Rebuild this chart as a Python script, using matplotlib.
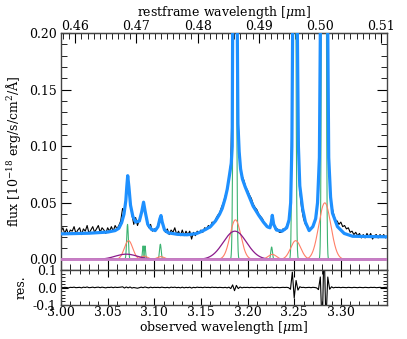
import numpy as np
from matplotlib import pyplot as plt, ticker

plt.rcParams['font.family'] = ['DejaVu Serif']
plt.rcParams['mathtext.fontset'] = 'dejavuserif'
plt.rcParams['font.size'] = 9

one_plus_z = 6.555

# observed spectrum (black), 3.000 .. 3.350 um in 0.002 steps
flux = [
    0.025, 0.028, 0.023, 0.027, 0.022, 0.026, 0.025, 0.029, 0.023, 0.026,
    0.028, 0.022, 0.027, 0.025, 0.030, 0.023, 0.026, 0.029, 0.024, 0.027,
    0.030, 0.024, 0.028, 0.026, 0.023, 0.028, 0.025, 0.029, 0.025, 0.030,
    0.027, 0.030, 0.034, 0.045, 0.042, 0.058, 0.070, 0.052, 0.040, 0.031,
    0.037, 0.030, 0.035, 0.040, 0.049, 0.045, 0.033, 0.028, 0.031, 0.025,
    0.027, 0.026, 0.030, 0.037, 0.036, 0.028, 0.024, 0.027, 0.022, 0.026,
    0.024, 0.028, 0.022, 0.025, 0.021, 0.026, 0.021, 0.025, 0.022, 0.025,
    0.018, 0.024, 0.021, 0.025, 0.023, 0.026, 0.024, 0.028, 0.027, 0.030,
    0.028, 0.033, 0.032, 0.036, 0.039, 0.041, 0.046, 0.050, 0.056, 0.061,
    0.070, 0.085, 0.160, 0.450, 0.300, 0.120, 0.082, 0.074, 0.070, 0.064,
    0.061, 0.057, 0.054, 0.049, 0.046, 0.044, 0.040, 0.038, 0.036, 0.032,
    0.031, 0.028, 0.029, 0.037, 0.031, 0.026, 0.027, 0.024, 0.024, 0.027,
    0.026, 0.030, 0.034, 0.048, 0.150, 0.700, 0.350, 0.120, 0.060, 0.045,
    0.036, 0.031, 0.029, 0.026, 0.027, 0.029, 0.033, 0.040, 0.058, 0.150,
    0.900, 1.200, 0.600, 0.120, 0.068, 0.048, 0.041, 0.035, 0.034, 0.031,
    0.033, 0.029, 0.030, 0.027, 0.028, 0.024, 0.025, 0.022, 0.024, 0.021,
    0.023, 0.019, 0.022, 0.019, 0.023, 0.020, 0.023, 0.018, 0.021, 0.022,
    0.019, 0.022, 0.020, 0.022, 0.019, 0.021,
]
resid = [
    0.002, -0.001, 0.001, 0.000, -0.002, 0.001, 0.000, 0.002, -0.001, 0.000,
    0.001, -0.002, 0.002, 0.000, 0.003, -0.001, 0.000, 0.002, -0.001, 0.001,
    0.002, -0.001, 0.002, 0.000, -0.002, 0.001, 0.000, 0.002, -0.001, 0.002,
    0.000, 0.001, 0.002, 0.004, -0.003, 0.003, -0.002, 0.003, -0.003, 0.000,
    -0.002, -0.004, -0.001, 0.002, -0.001, 0.003, 0.000, -0.002, 0.002, -0.001,
    0.001, 0.000, 0.001, -0.001, 0.002, 0.000, -0.001, 0.001, -0.002, 0.002,
    0.000, 0.002, -0.001, 0.001, -0.002, 0.002, -0.002, 0.001, -0.001, 0.002,
    -0.003, 0.001, -0.001, 0.002, 0.000, 0.001, -0.001, 0.002, 0.000, 0.001,
    -0.001, 0.002, 0.000, 0.001, -0.001, 0.001, 0.000, -0.001, 0.001, -0.002,
    0.002, -0.006, 0.015, -0.018, 0.012, -0.006, 0.003, -0.002, 0.001, 0.000,
    0.001, -0.001, 0.001, 0.000, -0.001, 0.001, 0.000, -0.001, 0.001, 0.000,
    -0.001, 0.001, 0.000, 0.002, -0.001, 0.000, 0.001, -0.001, 0.000, 0.001,
    0.000, 0.001, -0.001, -0.010, 0.088, -0.060, 0.040, -0.015, 0.004, 0.000,
    0.001, -0.001, 0.000, 0.001, -0.001, 0.001, 0.000, -0.002, -0.012, 0.060,
    -0.250, 0.250, -0.200, 0.060, -0.010, 0.004, -0.002, 0.001, 0.000, 0.001,
    -0.001, 0.001, 0.000, -0.001, 0.001, 0.000, -0.001, 0.001, 0.000, -0.001,
    0.001, 0.000, -0.001, 0.001, 0.000, -0.001, 0.001, 0.000, 0.001, -0.001,
    0.000, 0.001, -0.001, 0.000, 0.001, 0.000,
]
wl = np.linspace(3.0, 3.35, len(flux))

# total model (blue)
model_wl = [
    3.000, 3.030, 3.050, 3.058, 3.062, 3.065, 3.0675, 3.0695, 3.0705, 3.0715,
    3.0728, 3.0745, 3.0770, 3.0800, 3.0840, 3.0865, 3.0885, 3.0903, 3.0930, 3.0970,
    3.1010, 3.1040, 3.1060, 3.1072, 3.1085, 3.1110, 3.1150, 3.1250, 3.1350, 3.1450,
    3.1500, 3.1550, 3.1602, 3.1656, 3.1700, 3.1728, 3.1760, 3.1782, 3.1805, 3.1825,
    3.1835, 3.1840, 3.1865, 3.1890, 3.1897, 3.1910, 3.1925, 3.1945, 3.1975, 3.2010,
    3.2060, 3.2120, 3.2170, 3.2210, 3.2240, 3.2255, 3.2265, 3.2280, 3.2310, 3.2370,
    3.2420, 3.2445, 3.2462, 3.2475, 3.2483, 3.2505, 3.2534, 3.2545, 3.2560, 3.2590,
    3.2620, 3.2660, 3.2700, 3.2730, 3.2750, 3.2770, 3.2780, 3.2820, 3.2860, 3.2870,
    3.2890, 3.2910, 3.2964, 3.3036, 3.3126, 3.3500,
]
model_flux = [
    0.0226, 0.0232, 0.0242, 0.0255, 0.0275, 0.0325, 0.0400, 0.0520, 0.0640, 0.0740,
    0.0640, 0.0480, 0.0380, 0.0330, 0.0340, 0.0420, 0.0506, 0.0420, 0.0310, 0.0265,
    0.0255, 0.0290, 0.0360, 0.0388, 0.0330, 0.0260, 0.0235, 0.0222, 0.0218, 0.0228,
    0.0245, 0.0265, 0.0290, 0.0340, 0.0400, 0.0450, 0.0540, 0.0620, 0.0740, 0.0850,
    0.1000, 0.2000, 0.6000, 0.2000, 0.1200, 0.0950, 0.0800, 0.0710, 0.0640, 0.0570,
    0.0470, 0.0390, 0.0330, 0.0290, 0.0280, 0.0330, 0.0390, 0.0310, 0.0260, 0.0250,
    0.0280, 0.0350, 0.0500, 0.1000, 0.2000, 0.9000, 0.2000, 0.1000, 0.0650, 0.0450,
    0.0330, 0.0255, 0.0290, 0.0360, 0.0500, 0.0900, 0.2000, 1.5000, 0.2000, 0.0900,
    0.0550, 0.0410, 0.0290, 0.0230, 0.0205, 0.0200,
]

# gaussian components: centre [um], amplitude, sigma [um]
narrow_c = [3.0713, 3.0880, 3.0900, 3.1065, 3.1863, 3.2258, 3.2498, 3.2818]
narrow_a = [0.031, 0.012, 0.012, 0.0135, 0.67, 0.011, 1.0, 3.0]
narrow_s = [0.0009, 0.0007, 0.0007, 0.0009, 0.0012, 0.0009, 0.0012, 0.0012]

broad_c = [3.0724, 3.0890, 3.1070, 3.1870, 3.2265, 3.2516, 3.2828]
broad_a = [0.0166, 0.003, 0.0025, 0.035, 0.0045, 0.0166, 0.050]
broad_s = [0.0045, 0.004, 0.004, 0.0058, 0.0045, 0.0055, 0.0065]

vbroad_c = [3.0700, 3.1864]
vbroad_a = [0.0047, 0.025]
vbroad_s = [0.012, 0.0125]

fe_wl = [3.0, 3.35]
fe_flux = [0.0, 0.0]

rest_ticks = [0.46, 0.47, 0.48, 0.49, 0.50, 0.51]

fig = plt.figure(figsize=(4.07, 3.39), dpi=100)
ax = fig.add_axes([0.1499, 0.2035, 0.801, 0.6992])
ar = fig.add_axes([0.1499, 0.1003, 0.801, 0.1032], sharex=ax)

x = np.linspace(3.0, 3.35, 3501)
ax.plot(wl, flux, color='black', lw=0.8, zorder=2)
for cs, as_, ss, col, lw in [
    (narrow_c, narrow_a, narrow_s, '#3cb371', 0.8),
    (broad_c, broad_a, broad_s, '#ff7f66', 0.8),
    (vbroad_c, vbroad_a, vbroad_s, '#8b1a8b', 0.9),
]:
    for c, a, s in zip(cs, as_, ss):
        ax.plot(x, a * np.exp(-0.5 * ((x - c) / s) ** 2), color=col, lw=lw, zorder=3)
ax.plot(model_wl, model_flux, color='#1e90ff', lw=2.3, zorder=4)
ax.plot(fe_wl, fe_flux, color='#c77dc7', lw=2.0, zorder=5)

ax.set_xlim(3.0, 3.3495)
ax.set_ylim(-0.0093, 0.2)
ax.yaxis.set_major_locator(ticker.MultipleLocator(0.05))
ax.yaxis.set_minor_locator(ticker.MultipleLocator(0.01))
ax.yaxis.set_major_formatter(ticker.FormatStrFormatter('%.2f'))
ax.xaxis.set_major_locator(ticker.MultipleLocator(0.05))
ax.xaxis.set_minor_locator(ticker.MultipleLocator(0.01))
ax.tick_params(axis='x', which='both', labelbottom=False, top=False, direction='in')
ax.tick_params(axis='y', which='both', right=True, direction='in', pad=3)
ax.tick_params(which='major', length=7)
ax.tick_params(which='minor', length=4)
ax.set_ylabel('flux [10$^{-18}$ erg/s/cm$^2$/Å]', labelpad=4)

top = ax.secondary_xaxis('top', functions=(lambda v: v / one_plus_z, lambda v: v * one_plus_z))
top.xaxis.set_major_locator(ticker.FixedLocator(rest_ticks))
top.xaxis.set_minor_locator(ticker.MultipleLocator(0.001))
top.xaxis.set_major_formatter(ticker.FormatStrFormatter('%.2f'))
top.tick_params(which='both', direction='in', pad=0)
top.tick_params(which='major', length=7)
top.tick_params(which='minor', length=4)
top.set_xlabel(r'restframe wavelength [$\mu$m]', labelpad=3)

ar.plot(wl, resid, color='black', lw=0.8)
ar.set_ylim(-0.1, 0.1)
ar.set_yticks([-0.1, 0.0, 0.1])
ar.yaxis.set_major_formatter(ticker.FormatStrFormatter('%.1f'))
ar.yaxis.set_minor_locator(ticker.MultipleLocator(0.02))
ar.tick_params(which='both', top=True, right=True, direction='in')
ar.tick_params(axis='x', pad=1)
ar.tick_params(axis='y', pad=3)
ar.tick_params(which='major', length=5)
ar.tick_params(which='minor', length=3)
ar.xaxis.set_major_formatter(ticker.FormatStrFormatter('%.2f'))
ar.set_xlabel(r'observed wavelength [$\mu$m]', labelpad=0)
ar.set_ylabel('res.')

for a in (ax, ar):
    for sp in a.spines.values():
        sp.set_color('#444444')
        sp.set_linewidth(1.0)
fig.align_ylabels([ax, ar])

fig.savefig('out.png', dpi=100)
